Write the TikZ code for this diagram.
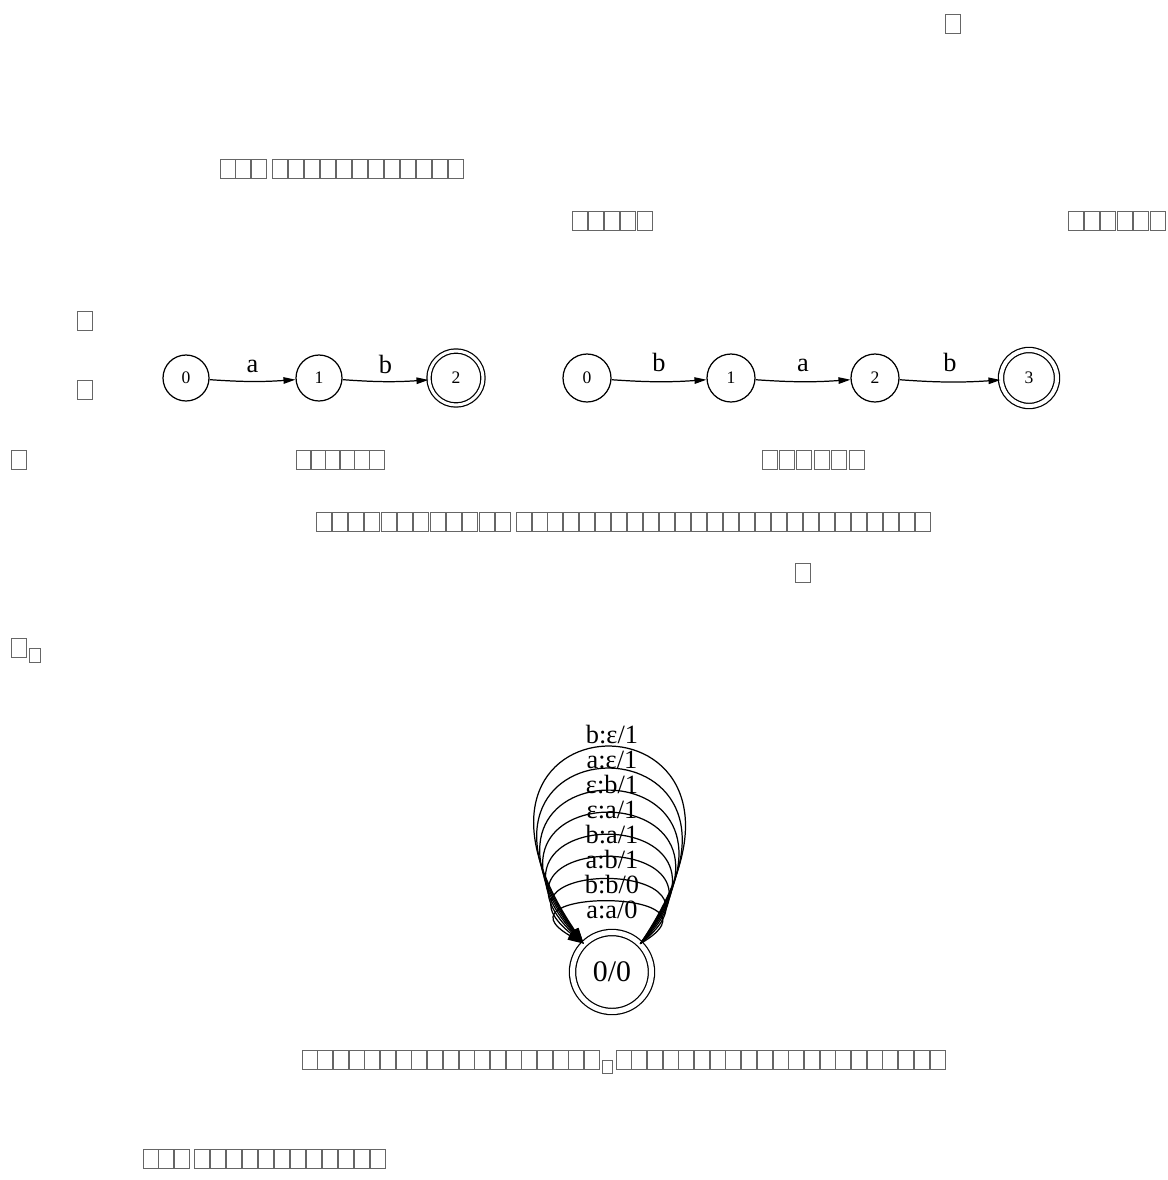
\documentclass[tikz,border=0pt]{standalone}
\usepackage{fontspec}
\setmainfont{Liberation Serif}
\usetikzlibrary{arrows.meta}
\tikzset{
  state/.style={circle, draw, line width=0.7pt, inner sep=0pt, font=\fontsize{10}{12}\selectfont},
  accept/.style={state, double, double distance=0.06cm},
  edge/.style={-{Triangle[length=2.4mm, width=1.3mm]}, line width=0.7pt},
  lbl/.style={font=\fontsize{15}{15}\selectfont},
  glyph/.style={draw=black!60, line width=0.5pt},
}
% a row of missing-glyph boxes: x, top y, count, step
\newcommand{\boxrow}[4]{%
  \foreach \i in {1,...,#3} \draw[glyph] ({#1+(\i-1)*#4},#2) rectangle +(15,19);}

\begin{document}
\begin{tikzpicture}[x=0.02cm, y=-0.02cm]
  \useasboundingbox (0,0) rectangle (1168,1180);
  % text lines (rendered as empty boxes)
  \boxrow{945}{14}{1}{0}
  \boxrow{220}{159}{3}{15.5}
  \boxrow{272}{159}{12}{16}
  \boxrow{572}{211}{5}{16.25}
  \boxrow{1068}{211}{6}{16.4}
  \boxrow{77}{311}{1}{0}
  \boxrow{77}{380}{1}{0}
  \boxrow{11}{450}{1}{0}
  \boxrow{296}{450}{6}{14.6}
  \boxrow{762}{450}{6}{17.4}
  \boxrow{316}{512}{12}{16.3}
  \boxrow{516}{512}{26}{15.96}
  \boxrow{795}{563}{1}{0}
  \boxrow{11}{638}{1}{0}
  \draw[glyph] (29,648) rectangle +(11,14);
  \boxrow{302}{1050}{19}{15.7}
  \draw[glyph] (602,1060) rectangle +(10,13);
  \boxrow{616}{1050}{21}{15.7}
  \boxrow{143}{1149}{3}{15.5}
  \boxrow{194}{1149}{12}{16}

  % automaton for "ab"
  \node[state, minimum size=0.92cm] (a0) at (186,378) {0};
  \node[state, minimum size=0.92cm] (a1) at (319,378) {1};
  \node[accept, minimum size=1.08cm] (a2) at (456,378) {2};
  \draw[edge] (a0) to[bend right=4] node[lbl, above=1pt] {a} (a1);
  \draw[edge] (a1) to[bend right=4] node[lbl, above=1pt] {b} (a2);

  % automaton for "bab"
  \node[state, minimum size=0.96cm] (b0) at (587,378) {0};
  \node[state, minimum size=0.96cm] (b1) at (731,378) {1};
  \node[state, minimum size=0.96cm] (b2) at (875,378) {2};
  \node[accept, minimum size=1.12cm, double distance=0.08cm] (b3) at (1029,378) {3};
  \draw[edge] (b0) to[bend right=4] node[lbl, above=2pt] {b} (b1);
  \draw[edge] (b1) to[bend right=4] node[lbl, above=2pt] {a} (b2);
  \draw[edge] (b2) to[bend right=4] node[lbl, above=2pt] {b} (b3);

  % edit-distance transducer
  \node[accept, minimum size=1.58cm, double distance=0.1cm,
        font=\fontsize{17}{17}\selectfont] (w) at (612,972) {0/0};
  \foreach \lbl [count=\k from 0] in {b:ε/1, a:ε/1, ε:b/1, ε:a/1, b:a/1, a:b/1, b:b/0, a:a/0} {
    \pgfmathsetmacro\ytop{748+22*\k}
    \pgfmathsetmacro\yc{(\ytop-236.25)/0.75}
    \pgfmathsetmacro\cx{(75-3.3*\k-16)/0.288}
    \draw[edge, -{Triangle[length=3.2mm, width=1.8mm]}]
      (w.45) .. controls ({612+\cx},\yc) and ({612-\cx},\yc) .. (w.135);
    \node[lbl] (l\k) at (612,{735+25*\k}) {\lbl};
  }
\end{tikzpicture}
\end{document}
